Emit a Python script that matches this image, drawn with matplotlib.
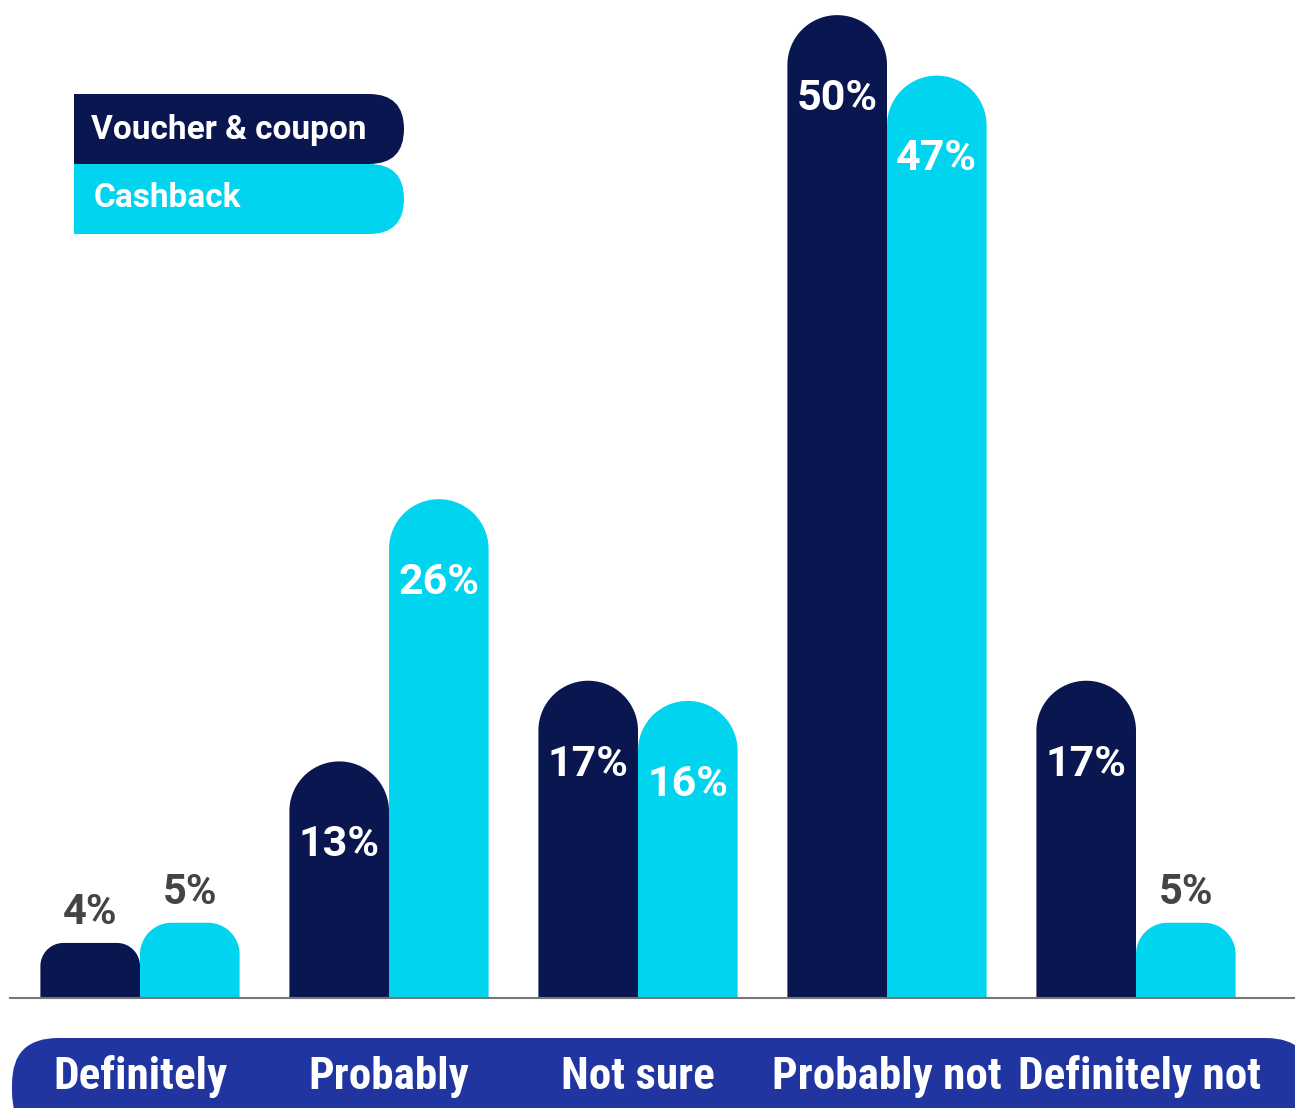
import numpy as np
import matplotlib.pyplot as plt
from matplotlib.patches import FancyBboxPatch, Rectangle

categories = ['Definitely', 'Probably', 'Not sure', 'Probably not', 'Definitely not']
voucher = [4, 13, 17, 50, 17]
cashback = [5, 26, 16, 47, 5]
series_names = ['Voucher & coupon', 'Cashback']

NAVY = '#0a1650'
CYAN = '#00d4ef'
BAND = '#2035a0'
GREY = '#444444'

W, H = 1295, 1108
fig = plt.figure(figsize=(W / 100, H / 100), dpi=100)

# main axes: baseline at y=998 px from top, 249 px per group
base_px = 998
px_x = 249.0
y_min = 1.27
px_y = 20.17
ax = fig.add_axes([0, (H - base_px) / H, 1, base_px / H])
ax.set_xlim(-140 / px_x, (W - 140) / px_x)
ax.set_ylim(y_min, y_min + base_px / px_y)
ax.axis('off')

bw = 0.40


def rounded_bar(x0, w, h, color):
    w_px, h_px = w * px_x, (h - y_min) * px_y
    r = min(w_px / 2, h_px * 0.42)
    rx, ry = r / px_x, r / px_y
    t = np.linspace(np.pi, np.pi / 2, 30)
    left = np.column_stack([x0 + rx + rx * np.cos(t), h - ry + ry * np.sin(t)])
    t2 = np.linspace(np.pi / 2, 0, 30)
    right = np.column_stack([x0 + w - rx + rx * np.cos(t2), h - ry + ry * np.sin(t2)])
    pts = np.vstack([[x0, 0], left, right, [x0 + w, 0]])
    ax.fill(pts[:, 0], pts[:, 1], color=color, lw=0)


def value_label(xc, v, inside):
    if inside:
        ax.annotate(f'{v}%', (xc, v), xytext=(0, -60), textcoords='offset points',
                    ha='center', va='center', color='white', fontsize=31,
                    fontweight='bold', family='Roboto')
    else:
        ax.annotate(f'{v}%', (xc, v), xytext=(0, 22), textcoords='offset points',
                    ha='center', va='center', color=GREY, fontsize=30,
                    fontweight='bold', family='Roboto')


for i in range(len(categories)):
    rounded_bar(i - bw, bw, voucher[i], NAVY)
    rounded_bar(i, bw, cashback[i], CYAN)
    value_label(i - bw / 2, voucher[i], voucher[i] >= 10)
    value_label(i + bw / 2, cashback[i], cashback[i] >= 10)

ax.axhline(y_min, xmin=10 / W, xmax=1, color='#777777', lw=1.5, clip_on=False)

# overlay in pixel coordinates for legend and category band
ov = fig.add_axes([0, 0, 1, 1], facecolor='none')
ov.set_xlim(0, W)
ov.set_ylim(H, 0)
ov.axis('off')

band = FancyBboxPatch((12, 1038), 1300, 100, boxstyle='round,pad=0,rounding_size=46',
                      fc=BAND, ec='none')
ov.add_patch(band)
for i, c in enumerate(categories):
    xc = 140 + px_x * i + (4 if i == 4 else 0)
    ov.text(xc, 1077, c, ha='center', va='center', color='white', fontsize=32.5,
            fontweight='bold', family=['Roboto Condensed', 'Roboto'])

# legend
for j, (name, col) in enumerate(zip(series_names[::-1], [CYAN, NAVY])):
    y0 = 164 if j == 0 else 94
    ov.add_patch(Rectangle((74, y0), 260, 70, fc=col, ec='none'))
    ov.add_patch(FancyBboxPatch((250, y0), 154, 70, boxstyle='round,pad=0,rounding_size=35',
                                fc=col, ec='none'))
ov.text(91, 130, series_names[0], ha='left', va='center', color='white', fontsize=24,
        fontweight='bold', family='Roboto')
ov.text(94, 198, series_names[1], ha='left', va='center', color='white', fontsize=24,
        fontweight='bold', family='Roboto')

fig.savefig('out.png', dpi=100, facecolor='white')
